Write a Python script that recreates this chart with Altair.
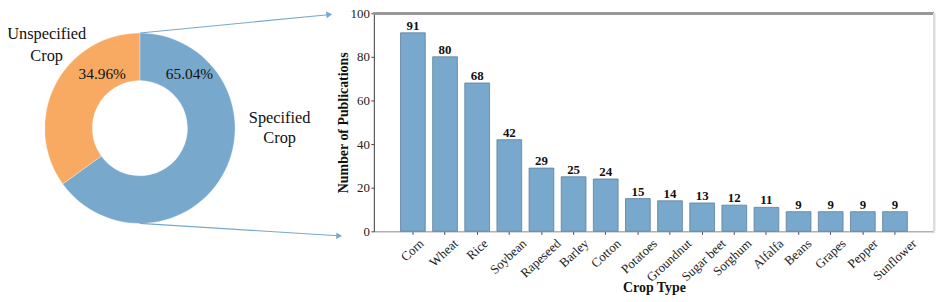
import altair as alt
import pandas as pd

crops = ["Corn", "Wheat", "Rice", "Soybean", "Rapeseed", "Barley", "Cotton", "Potatoes",
         "Groundnut", "Sugar beet", "Sorghum", "Alfalfa", "Beans", "Grapes", "Pepper", "Sunflower"]
counts = [91, 80, 68, 42, 29, 25, 24, 15, 14, 13, 12, 11, 9, 9, 9, 9]

pie_labels = ["Specified Crop", "Unspecified Crop"]
pie_values = [65.04, 34.96]

W, H = 565, 220
SERIF = "Liberation Serif"
BLUE = "#78a8cc"
ORANGE = "#f8a962"

bars_df = pd.DataFrame({"crop": crops, "count": counts})
pie_df = pd.DataFrame({"part": pie_labels, "value": pie_values, "idx": [0, 1]})

xenc = alt.X("crop:N", sort=crops, title="Crop Type",
             scale=alt.Scale(paddingInner=0.23, paddingOuter=0.83),
             axis=alt.Axis(labels=False,
                           titleFont=SERIF, titleFontSize=14, titleFontWeight="bold", titleColor="#111",
                           titleY=64, titleBaseline="bottom",
                           domainColor="#999", tickColor="#444", tickSize=3))
yenc = alt.Y("count:Q", title="Number of Publications",
             scale=alt.Scale(domain=[0, 100], nice=False),
             axis=alt.Axis(values=[0, 20, 40, 60, 80, 100], grid=False, labelFont=SERIF, labelFontSize=13,
                           labelColor="#222", titleFont=SERIF, titleFontSize=14, titleFontWeight="bold",
                           titleColor="#111", domainColor="#444", tickColor="#444", tickSize=3,
                           labelPadding=1.5, titlePadding=0))

base = alt.Chart(bars_df)
bars = base.mark_bar(color=BLUE, stroke="#5d7f9c", strokeWidth=0.8).encode(x=xenc, y=yenc)
vals = base.mark_text(dy=-7, font=SERIF, fontSize=13, fontWeight="bold", color="#111").encode(
    x=alt.X("crop:N", sort=crops), y="count:Q", text="count:Q")

# rotated tick labels, bounding box centred under each tick (shift estimated from text length)
SHIFT = "((0.731 * length(datum.crop) * 5.9) - 7.5) / 2"
xlabels = base.mark_text(
    angle=317, align="right", baseline="top", font=SERIF, fontSize=13, color="#222",
    dx=alt.ExprRef(f"0.731 * {SHIFT}"), dy=alt.ExprRef(f"0.682 * {SHIFT}"),
).encode(x=alt.X("crop:N", sort=crops), y=alt.value(H + 6), text="crop:N")

top_border = alt.Chart(bars_df).mark_rule(color="#999", strokeWidth=2).encode(
    x=alt.value(0), x2=alt.value(W), y=alt.value(0))
right_border = alt.Chart(bars_df).mark_rule(color="#ddd", strokeWidth=2).encode(
    x=alt.value(W), y=alt.value(0), y2=alt.value(H))

CX, CY = -236, 116
donut = alt.Chart(pie_df).mark_arc(innerRadius=48, outerRadius=96, stroke="white", strokeWidth=0.3).encode(
    theta=alt.Theta("value:Q", stack=True),
    color=alt.Color("part:N", scale=alt.Scale(domain=pie_labels, range=[BLUE, ORANGE]), legend=None),
    order=alt.Order("idx:Q"),
    x=alt.value(CX), y=alt.value(CY))

def txt(s, x, y, size, lh=21):
    return alt.Chart(pd.DataFrame({"t": [s]})).mark_text(
        font=SERIF, fontSize=size, color="#111", align="center", baseline="middle", lineHeight=lh
    ).encode(text="t", x=alt.value(x), y=alt.value(y))

pct_spec = txt(f"{pie_values[0]:.2f}%", CX + 50, CY - 55, 15.5)
pct_uns = txt(f"{pie_values[1]:.2f}%", CX - 38, CY - 55, 15.5)
lab_spec = txt(["Specified", "Crop"], CX + 141, CY - 10, 16.5, 20)
lab_uns = txt(["Unspecified", "Crop"], CX - 94, CY - 95, 16.5, 22)

arrow_df = pd.DataFrame({"a": [0]})
line1 = alt.Chart(arrow_df).mark_rule(color=BLUE, strokeWidth=1.1).encode(
    x=alt.value(CX), y=alt.value(CY - 96), x2=alt.value(-46), y2=alt.value(1.5))
head1 = alt.Chart(arrow_df).mark_point(shape="triangle-right", filled=True, color=BLUE, opacity=1,
                                       size=45, angle=355).encode(x=alt.value(-45), y=alt.value(1.4))
line2 = alt.Chart(arrow_df).mark_rule(color=BLUE, strokeWidth=1.1).encode(
    x=alt.value(CX), y=alt.value(CY + 96), x2=alt.value(-36), y2=alt.value(224.5))
head2 = alt.Chart(arrow_df).mark_point(shape="triangle-right", filled=True, color=BLUE, opacity=1,
                                       size=45, angle=3).encode(x=alt.value(-35), y=alt.value(224.6))

chart = alt.layer(
    bars, vals, xlabels, top_border, right_border, donut, pct_spec, pct_uns, lab_spec, lab_uns,
    line1, head1, line2, head2
).resolve_scale(color="independent").properties(
    width=W, height=H,
    autosize=alt.AutoSizeParams(type="none"),
    padding={"left": 369, "top": 4, "right": 5, "bottom": 66},
).configure_view(stroke=None).configure(background="white")

chart.save("out.html", embed_options={"renderer": "svg", "actions": False})
